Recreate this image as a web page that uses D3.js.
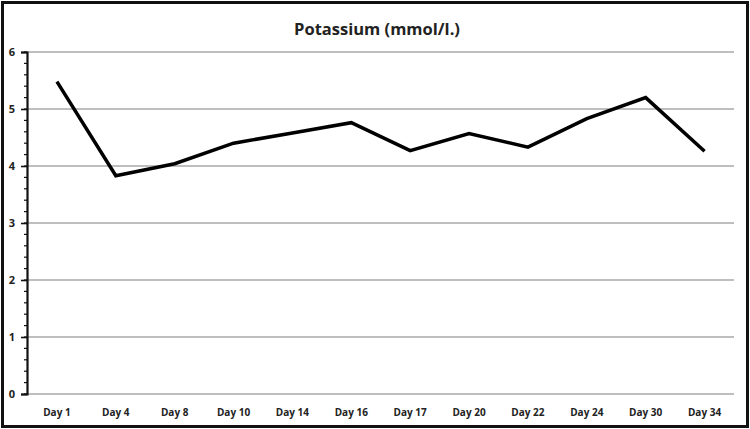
<!DOCTYPE html>
<html>
<head>
<meta charset="utf-8">
<script src="https://cdn.jsdelivr.net/npm/d3@7"></script>
<style>
	body { margin: 0; background: #fff; }
	svg { display: block; }
	text { font-family: "Open Sans", sans-serif; font-weight: bold; fill: #222; }
</style>
</head>
<body>
<div id="chart"></div>
<script>
let days = ["Day 1", "Day 4", "Day 8", "Day 10", "Day 14", "Day 16", "Day 17", "Day 20", "Day 22", "Day 24", "Day 30", "Day 34"];
let potassium = [5.48, 3.83, 4.04, 4.40, 4.58, 4.76, 4.27, 4.57, 4.33, 4.83, 5.20, 4.26];
let yTicks = [0, 1, 2, 3, 4, 5, 6];
let chartTitle = "Potassium (mmol/l.)";

let w = 750, h = 429;
let margin = { top: 52, right: 16, bottom: 35, left: 27 };

let svg = d3.select("#chart")
	.append("svg")
	.attr("width", w)
	.attr("height", h);

// outer frame
svg.append("rect")
	.attr("x", 2.5).attr("y", 2.5)
	.attr("width", w - 5).attr("height", h - 5)
	.attr("fill", "white")
	.attr("stroke", "#111")
	.attr("stroke-width", 3);

let x = d3.scaleBand()
	.domain(days)
	.range([margin.left + 0.5, w - margin.right]);

let y = d3.scaleLinear()
	.domain([0, 6])
	.range([h - margin.bottom, margin.top]);

// gridlines
svg.append("g")
	.selectAll("line")
	.data(yTicks)
	.enter().append("line")
	.attr("x1", margin.left)
	.attr("x2", w - margin.right)
	.attr("y1", (d) => y(d))
	.attr("y2", (d) => y(d))
	.attr("stroke", "#a8a8a8")
	.attr("stroke-width", 1.6);

// minor ticks
let minor = d3.range(0, 6.001, 0.2);
svg.append("g")
	.selectAll("line")
	.data(minor)
	.enter().append("line")
	.attr("x1", margin.left - 3)
	.attr("x2", margin.left)
	.attr("y1", (d) => y(d))
	.attr("y2", (d) => y(d))
	.attr("stroke", "#111")
	.attr("stroke-width", 1.2);

// y axis
let yAxis = svg.append("g")
	.attr("transform", "translate(" + margin.left + ",0)")
	.call(d3.axisLeft(y).tickValues(yTicks).tickSize(6).tickPadding(6).tickFormat(d3.format("d")));

yAxis.select(".domain").attr("stroke", "#111").attr("stroke-width", 2.2);
yAxis.selectAll(".tick line").attr("stroke", "#111").attr("stroke-width", 1.6);
yAxis.selectAll("text").style("font-size", "11px").attr("fill", "#222");

// x labels
svg.append("g")
	.selectAll("text")
	.data(days)
	.enter().append("text")
	.attr("x", (d) => x(d) + x.bandwidth() / 2)
	.attr("y", 416)
	.attr("text-anchor", "middle")
	.style("font-size", "10px")
	.text((d) => d);

// line
let line = d3.line()
	.x((d, i) => x(days[i]) + x.bandwidth() / 2)
	.y((d) => y(d));

svg.append("path")
	.datum(potassium)
	.attr("d", line)
	.attr("fill", "none")
	.attr("stroke", "#000")
	.attr("stroke-width", 3.5)
	.attr("stroke-linejoin", "miter");

// title
svg.append("text")
	.attr("x", 377)
	.attr("y", 35)
	.attr("text-anchor", "middle")
	.style("font-size", "16.5px")
	.text(chartTitle);
</script>
</body>
</html>
